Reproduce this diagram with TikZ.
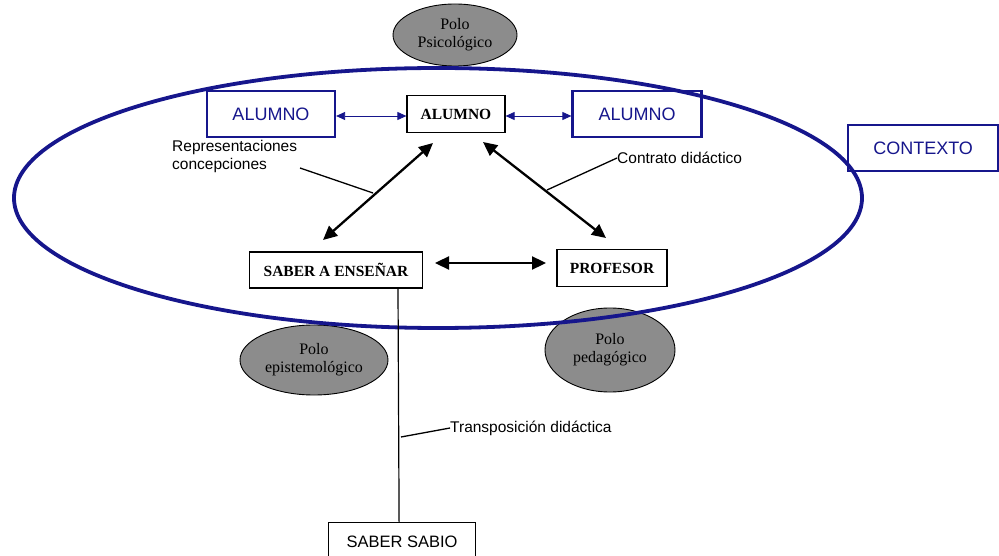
\documentclass[tikz,border=0pt]{standalone}
\usepackage{fontspec}
\setmainfont{Liberation Serif}
\setsansfont{Liberation Sans}
\usetikzlibrary{arrows.meta,shapes.geometric}
\definecolor{navy}{RGB}{22,22,140}
\begin{document}
\begin{tikzpicture}[x=1pt,y=-1pt,
  bluebox/.style={draw=navy,line width=2.2pt,inner sep=0pt,text=navy,font=\sffamily\fontsize{18}{20}\selectfont},
  blackbox/.style={draw=black,line width=1.2pt,inner sep=0pt,font=\bfseries\fontsize{15.5}{17}\selectfont},
  polo/.style={ellipse,draw=black,line width=0.9pt,fill=black!45,inner sep=0pt,align=center,font=\fontsize{16}{18}\selectfont},
  lbl/.style={inner sep=0pt,font=\sffamily\fontsize{15.5}{18}\selectfont},
  bigarrow/.style={line width=2.3pt,{Triangle[length=14pt,width=13pt]}-{Triangle[length=14pt,width=13pt]}},
  bluearrow/.style={draw=navy,line width=0.8pt,{Triangle[length=9pt,width=8pt]}-{Triangle[length=9pt,width=8pt]}},
  leader/.style={line width=1.3pt}]
\useasboundingbox (0,0) rectangle (999,556);
% polos
\node[polo,minimum width=124,minimum height=62] (ppsi) at (455,35) {Polo\\Psicológico};
\node[polo,minimum width=148,minimum height=70] (pepi) at (314,360) {Polo\\epistemológico};
\node[polo,minimum width=130,minimum height=84] (pped) at (610,350) {Polo\\pedagógico};
% context ellipse
\node[ellipse,draw=navy,line width=3.8pt,minimum width=848,minimum height=260,inner sep=0pt] (ctx) at (438,198) {};
% boxes
\node[bluebox,minimum width=128,minimum height=46] (aluL) at (271,114) {ALUMNO};
\node[blackbox,minimum width=98,minimum height=37] (alu) at (456,114) {ALUMNO};
\node[bluebox,minimum width=129,minimum height=46] (aluR) at (637,114) {ALUMNO};
\node[bluebox,minimum width=150,minimum height=46,anchor=north west] (ctxt) at (847,124) {CONTEXTO};
\node[blackbox,minimum width=173,minimum height=36] (saber) at (336,270) {SABER A ENSEÑAR};
\node[blackbox,minimum width=110,minimum height=37] (prof) at (612,268) {PROFESOR};
\node[draw=black,line width=1.2pt,inner sep=0pt,minimum width=147,minimum height=38,anchor=north west,font=\sffamily\fontsize{16.5}{18}\selectfont] (sabio) at (328,522) {SABER SABIO};
% blue arrows
\draw[bluearrow] ([yshift=-2pt]aluL.east) -- ([yshift=-2pt]alu.west);
\draw[bluearrow] ([yshift=-2pt]alu.east) -- ([yshift=-2pt]aluR.west);
% black arrows
\coordinate (a1) at (433,143);
\coordinate (s1) at (323,240);
\coordinate (a2) at (483,142);
\coordinate (p2) at (606,238);
\coordinate (m1) at (435,263);
\coordinate (m2) at (546,263);
\draw[bigarrow] (a1) -- (s1);
\draw[bigarrow] (a2) -- (p2);
\draw[bigarrow] (m1) -- (m2);
% vertical line
\draw[line width=1.2pt] ([xshift=62pt]saber.south) -- ([xshift=-3pt]sabio.north);
% labels
\node[lbl,align=left,anchor=north west] (rep) at (172,140) {Representaciones\\concepciones};
\node[lbl,anchor=west] (con) at (617,158) {Contrato didáctico};
\node[lbl,anchor=west] (tra) at (450,428) {Transposición didáctica};
\coordinate (r0) at (300,168);
\coordinate (r1) at (373,193);
\coordinate (c1) at (547,190);
\coordinate (t1) at (401,437);
\draw[leader] (r0) -- (r1);
\draw[leader] (c1) -- (con.west);
\draw[leader] (t1) -- (tra.west);
\end{tikzpicture}
\end{document}
